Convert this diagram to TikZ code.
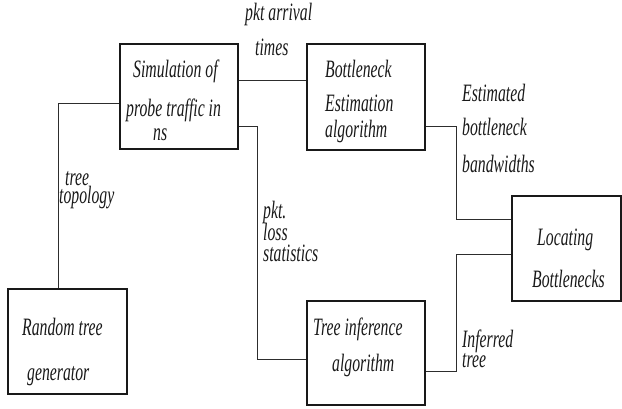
\documentclass[tikz,border=0pt]{standalone}
\usepackage{fontspec}
\setmainfont{Liberation Serif}
\usetikzlibrary{positioning,calc}
\definecolor{ink}{RGB}{25,25,25}
\definecolor{wirec}{RGB}{45,45,45}
\newcommand{\narrow}[1]{\scalebox{0.63}[1]{#1}}

\begin{document}
\begin{tikzpicture}[
  x=1pt, y=-1pt,
  every node/.style={text=ink},
  blk/.style={draw=ink, line width=1.1pt, inner sep=0pt, fill=white},
  wire/.style={draw=wirec, line width=0.9pt},
  lbl/.style={inner sep=0pt, anchor=base west, font=\fontsize{25}{27}\selectfont\itshape},
]
\useasboundingbox (0,0) rectangle (622,408);

% ---------------- blocks ----------------
\node[blk, minimum width=118pt, minimum height=105pt] (sim)  at (179,96.5)   {};
\node[blk, minimum width=118pt, minimum height=106pt] (bott) at (366,97)     {};
\node[blk, minimum width=119pt, minimum height=105pt] (rand) at (67.5,341.5) {};
\node[blk, minimum width=118pt, minimum height=104pt] (tinf) at (366,353)    {};
\node[blk, minimum width=109pt, minimum height=105pt] (loc)  at (566.5,248.5) {};

% ---------------- connectors ----------------
\draw[wire] ([yshift=16.5pt]sim.east) -- ([yshift=17pt]bott.west);
\draw[wire] ([yshift=-6.5pt]sim.west) -| ([xshift=-9.5pt]rand.north);
\draw[wire] ([yshift=-29.5pt]sim.east) -- ++(19,0) |- ([yshift=-6pt]tinf.west);
\draw[wire] ([yshift=-29pt]bott.east) -- ++(31,0) |- ([yshift=29.5pt]loc.west);
\draw[wire] ([yshift=-18pt]tinf.east) -- ++(31,0) |- ([yshift=-5.5pt]loc.west);

% ---------------- block texts ----------------
\foreach \t/\x/\y [count=\i] in {
  Simulation of/133/77, probe traffic in/126/116, ns/153/140,
  Bottleneck/325/77, Estimation/325/111, algorithm/325/137,
  Locating/537/245, Bottlenecks/532/287,
  Random tree/22/335, generator/27/380,
  Tree inference/313/335, algorithm/332/371} {
  \node[lbl] (b\i) at (\x,\y) {\narrow{\t}};
}

% ---------------- connector labels ----------------
\foreach \t/\x/\y [count=\i] in {
  pkt arrival/245/20, times/255/55,
  tree/65/185, topology/59/203,
  pkt./263/218, loss/263/240, statistics/263/261,
  Estimated/462/101, bottleneck/462/135, bandwidths/462/172,
  Inferred/462/347, tree/462/367} {
  \node[lbl] (c\i) at (\x,\y) {\narrow{\t}};
}

\end{tikzpicture}
\end{document}
